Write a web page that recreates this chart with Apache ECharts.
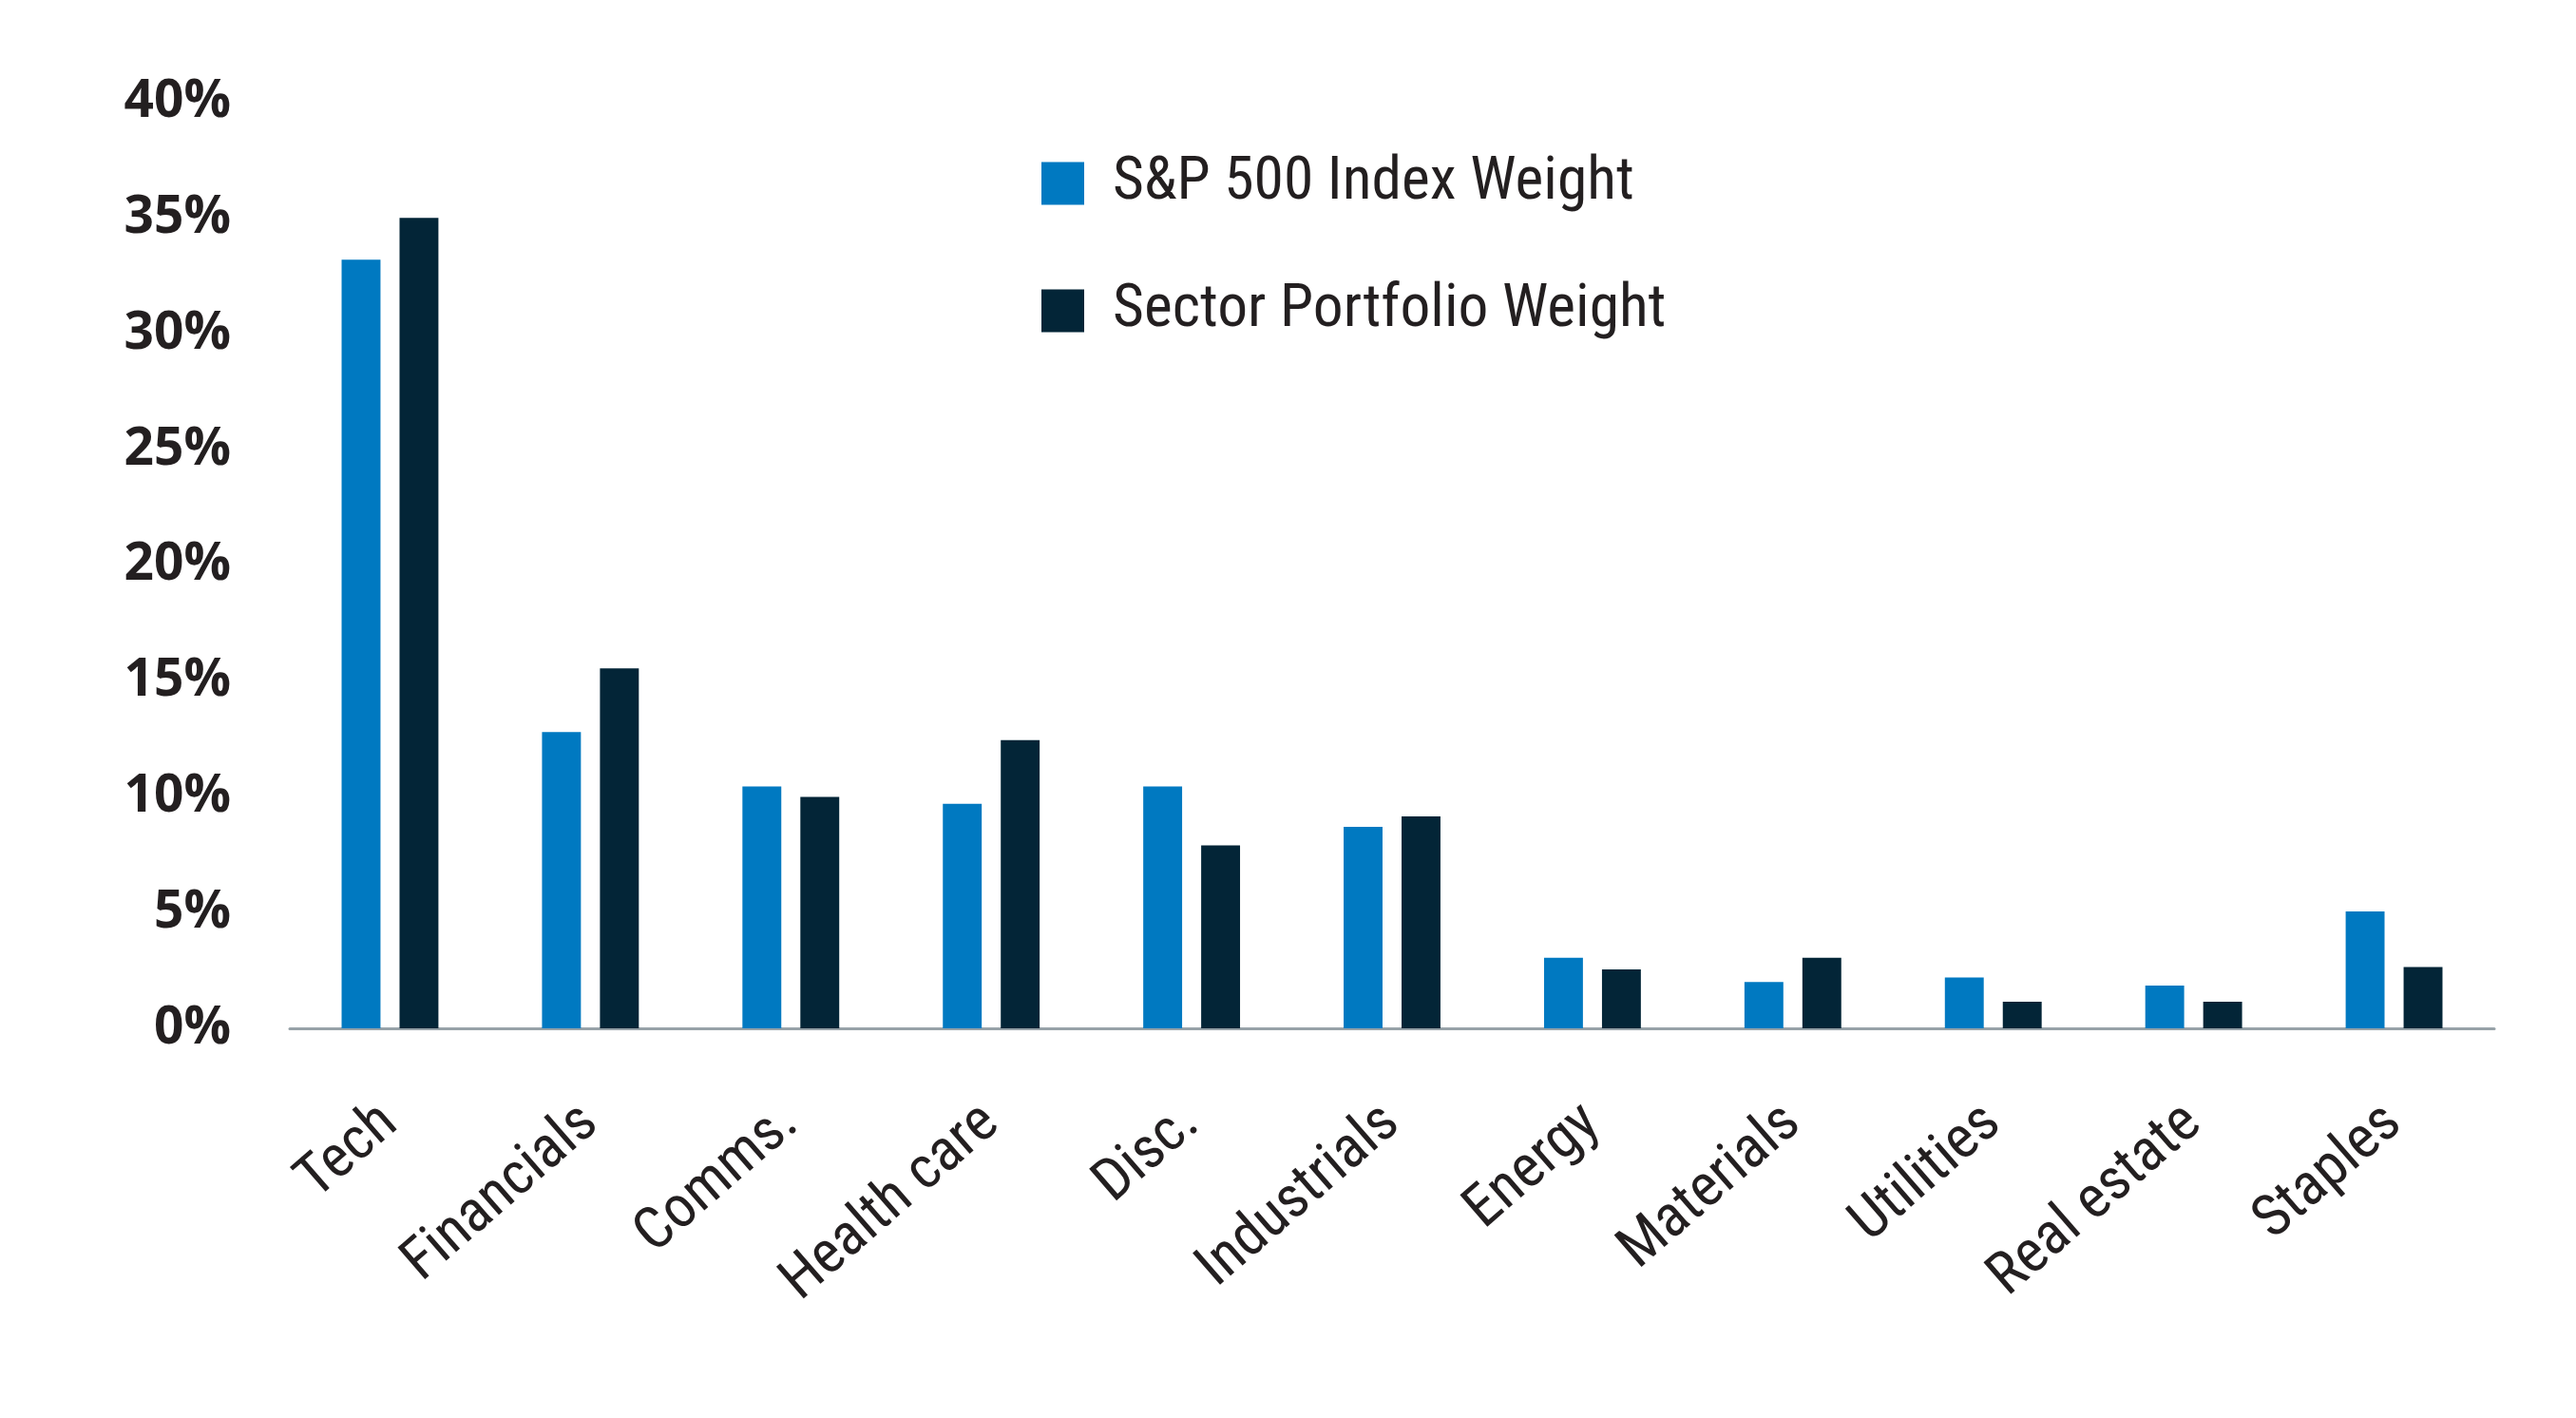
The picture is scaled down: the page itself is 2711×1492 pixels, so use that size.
<!DOCTYPE html>
<html>
<head>
<meta charset="utf-8">
<script src="https://cdn.jsdelivr.net/npm/echarts@6/dist/echarts.min.js"></script>
<style>
html,body{margin:0;padding:0;background:#fff;}
#chart{width:2711px;height:1492px;}
</style>
</head>
<body>
<div id="chart"></div>
<script>
const categories = ['Tech','Financials','Comms.','Health care','Disc.','Industrials','Energy','Materials','Utilities','Real estate','Staples'];
const indexWeight = [33.2, 12.8, 10.45, 9.7, 10.45, 8.7, 3.05, 2.0, 2.2, 1.85, 5.05];
const portfolioWeight = [35.0, 15.55, 10.0, 12.45, 7.9, 9.15, 2.55, 3.05, 1.15, 1.15, 2.65];
const yTicks = {min: 0, max: 40, interval: 5};
const seriesNames = ['S&P 500 Index Weight', 'Sector Portfolio Weight'];

const chart = echarts.init(document.getElementById('chart'));
const cond = '"Roboto Condensed", "Open Sans", sans-serif';
chart.setOption({
  animation: false,
  backgroundColor: '#ffffff',
  grid: {left: 305, right: 86, top: 107.5, bottom: 410, containLabel: false},
  legend: {
    orient: 'vertical',
    left: 1096,
    top: 161,
    padding: 0,
    itemWidth: 45,
    itemHeight: 45,
    itemGap: 70,
    icon: 'rect',
    textStyle: {fontFamily: cond, fontSize: 63.5, color: '#231f20', padding: [0, 0, 0, 25]},
    data: seriesNames
  },
  xAxis: {
    type: 'category',
    data: categories,
    axisLine: {lineStyle: {color: '#97a2a8', width: 3}},
    axisTick: {show: false},
    axisLabel: {rotate: 41, margin: 92, fontFamily: cond, fontSize: 62, color: '#231f20', interval: 0}
  },
  yAxis: {
    type: 'value',
    min: yTicks.min, max: yTicks.max, interval: yTicks.interval,
    splitLine: {show: false},
    axisLine: {show: false},
    axisTick: {show: false},
    axisLabel: {formatter: '{value}%', margin: 62, fontFamily: '"Open Sans", sans-serif', fontWeight: 700, fontSize: 55, color: '#231f20'}
  },
  series: [
    {name: seriesNames[0], type: 'bar', data: indexWeight, barWidth: '19.4%', barGap: '49%', itemStyle: {color: '#0079c1'}},
    {name: seriesNames[1], type: 'bar', data: portfolioWeight, barWidth: '19.4%', itemStyle: {color: '#032537'}}
  ]
});
</script>
</body>
</html>
